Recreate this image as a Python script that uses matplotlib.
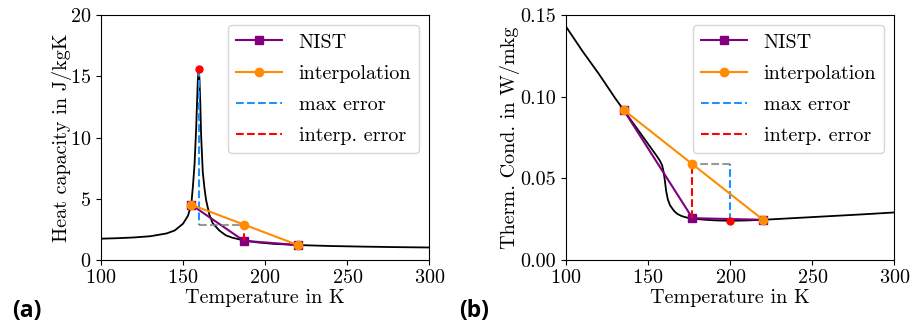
import matplotlib
matplotlib.use("Agg")
import matplotlib.pyplot as plt

plt.rcParams["font.family"] = "cmr10"
plt.rcParams["mathtext.fontset"] = "cm"
plt.rcParams["axes.formatter.use_mathtext"] = True

# (a) heat capacity
cp_T = [100, 110, 120, 130, 140, 145, 150, 153, 155, 156, 157, 158, 158.5, 159,
        159.5, 160, 160.5, 161, 162, 163, 164, 166, 168, 172, 176, 180, 187,
        195, 205, 220, 240, 260, 280, 300]
cp_val = [1.72, 1.76, 1.82, 1.92, 2.15, 2.4, 2.95, 3.6, 4.5, 6.0, 7.8, 10.8, 12.8, 14.7,
          15.6, 14.8, 12.8, 10.2, 7.2, 5.9, 4.9, 3.7, 3.0, 2.4, 2.0, 1.8, 1.58,
          1.42, 1.3, 1.2, 1.12, 1.07, 1.03, 1.0]
cp_nist_T = [155, 187, 220]
cp_nist = [4.5, 1.55, 1.2]
cp_interp = [4.5, 2.88, 1.2]
cp_peak = (159.5, 15.6)

# (b) thermal conductivity
k_T = [100, 110, 120, 130, 135, 140, 145, 150, 155, 157, 158.5, 159.2, 160, 161,
       162, 163.3, 165, 166.3, 168, 170.4, 173, 175.4, 177, 185, 192, 200, 210,
       220, 240, 260, 280, 300]
k_val = [0.143, 0.128, 0.114, 0.099, 0.092, 0.085, 0.078, 0.071, 0.064, 0.061, 0.058,
         0.055, 0.050, 0.042, 0.037, 0.0335, 0.031, 0.0294, 0.028, 0.0268, 0.026,
         0.0255, 0.0252, 0.0245, 0.0241, 0.0239, 0.0241, 0.0245, 0.0256, 0.0267,
         0.0278, 0.029]
k_nist_T = [135, 177, 220]
k_nist = [0.092, 0.0255, 0.0245]
k_interp = [0.092, 0.0586, 0.0245]
k_min = (200, 0.0239)

FS = 14.5
BLUE = "#1e90ff"


def draw_panel(ax, T, val, nist_T, nist, interp, extreme, ylim, yticks, ylabel, ylab_x):
    ax.plot(T, val, color="black", lw=1.3, zorder=2)
    ax.plot(nist_T, nist, color="purple", marker="s", ms=6, lw=1.5, label="NIST", zorder=3)
    ax.plot(nist_T, interp, color="darkorange", marker="o", ms=6, lw=1.5,
            label="interpolation", zorder=4)
    ex, ey = extreme
    mx = nist_T[1]
    # max error at the extreme of the curve, interpolation error at the midpoint
    ax.plot([ex, ex], [ey, interp[1]], ls="--", color=BLUE, lw=1.5, label="max error", zorder=3)
    ax.plot([ex, mx], [interp[1], interp[1]], ls="--", color="gray", lw=1.5, alpha=0.8, zorder=3)
    ax.plot([mx, mx], [nist[1], interp[1]], ls="--", color="red", lw=1.5,
            label="interp. error", zorder=3)
    ax.plot([ex], [ey], "o", color="red", ms=5, zorder=5)
    ax.set_xlim(100, 300)
    ax.set_ylim(*ylim)
    ax.set_xticks([100, 150, 200, 250, 300])
    ax.set_yticks(yticks)
    ax.tick_params(labelsize=FS)
    ax.set_xlabel("Temperature in K", fontsize=FS, labelpad=1)
    ax.set_ylabel(ylabel, fontsize=FS)
    ax.yaxis.set_label_coords(ylab_x, 0.5)
    ax.legend(loc="upper right", fontsize=FS, handlelength=2.25, handletextpad=0.85,
              labelspacing=0.65)


fig = plt.figure(figsize=(9.13, 3.25), dpi=100)
ax1 = fig.add_axes([0.1106, 0.2009, 0.3596, 0.752])
ax2 = fig.add_axes([0.6200, 0.2009, 0.3596, 0.752])

draw_panel(ax1, cp_T, cp_val, cp_nist_T, cp_nist, cp_interp, cp_peak,
           (0, 20), [0, 5, 10, 15, 20], "Heat capacity in J/kgK", -0.089)
draw_panel(ax2, k_T, k_val, k_nist_T, k_nist, k_interp, k_min,
           (0, 0.15), [0, 0.05, 0.10, 0.15], "Therm. Cond. in W/mkg", -0.140)
ax2.set_yticklabels(["0.00", "0.05", "0.10", "0.15"])

fig.text(0.013, 0.025, "(a)", fontsize=16.5, fontweight="bold", family="Open Sans")
fig.text(0.503, 0.025, "(b)", fontsize=16.5, fontweight="bold", family="Open Sans")

fig.savefig("out.png", dpi=100)
